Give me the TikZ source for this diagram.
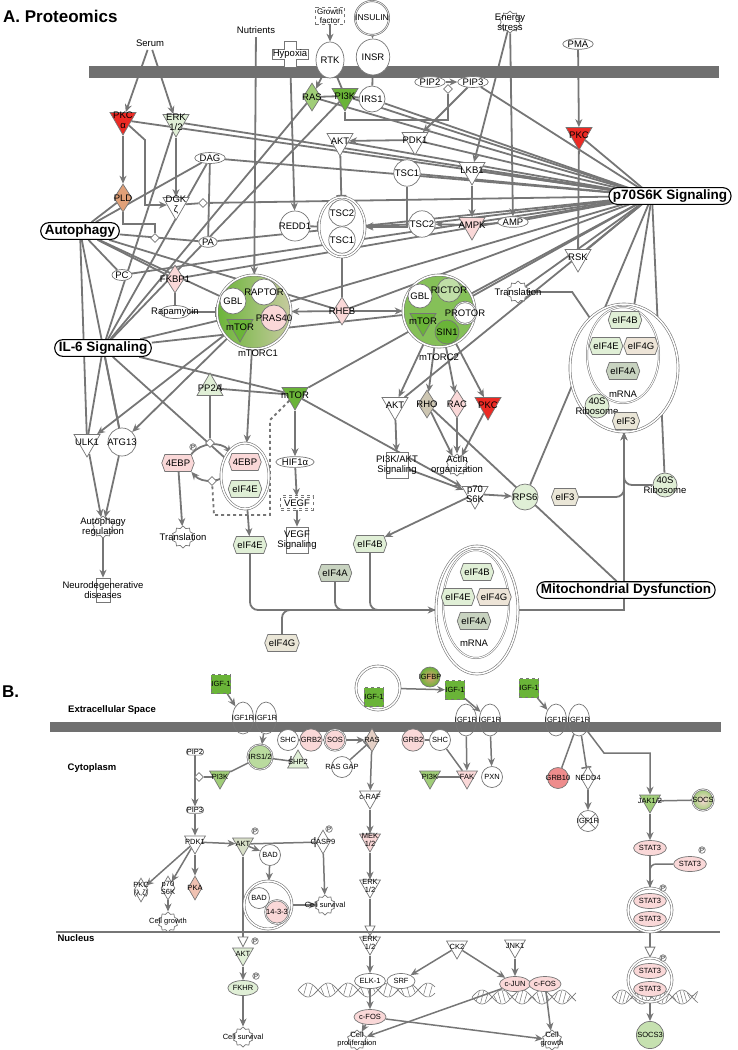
\documentclass[tikz,border=0pt]{standalone}
\usepackage{fontspec}
\setmainfont{Liberation Sans}
\usepackage{tikz}
\usetikzlibrary{arrows.meta,positioning,calc,shapes.geometric,shapes.symbols,shapes.misc}
\definecolor{lg}{RGB}{118,118,118}
\definecolor{bar}{RGB}{112,112,112}
\definecolor{rd}{RGB}{236,42,36}
\definecolor{gr}{RGB}{106,180,56}
\definecolor{gr2}{RGB}{160,205,120}
\definecolor{pg}{RGB}{224,239,214}
\definecolor{pk}{RGB}{250,216,216}
\definecolor{pk2}{RGB}{238,140,140}
\definecolor{org}{RGB}{224,160,120}
\definecolor{tan}{RGB}{205,198,178}
\pgfdeclarelayer{bg}
\pgfsetlayers{bg,main}
\begin{document}
\begin{tikzpicture}[x=1pt,y=-1pt,
  font=\fontsize{9.5}{10}\selectfont,
  e/.style={draw=lg, line width=1.8pt},
  a/.style={e, -{Stealth[length=8pt,width=7pt]}},
  ib/.style={e, -{Bar[width=10pt]}},
  ha/.style={e, -{Triangle[open,length=11pt,width=11pt,line width=0.8pt]}},
  fn/.style={draw=lg, line width=0.7pt, fill=white, inner sep=0.5pt},
  circ/.style={fn, circle, minimum size=26pt},
  lc/.style={fn, circle, minimum size=26pt, inner sep=0pt, label={[align=center]center:#1}},
  ell/.style={fn, ellipse},
  vell/.style={fn, ellipse, minimum width=26pt, minimum height=36pt},
  rec/.style={draw=lg, line width=0.7pt, ellipse, minimum width=21pt, minimum height=32pt, inner sep=0pt, label={center:IGF1R}},
  tri/.style={fn, regular polygon, regular polygon sides=3, shape border rotate=180, minimum size=30pt, inner sep=0pt, label={[align=center]center:#1}},
  utri/.style={fn, regular polygon, regular polygon sides=3, minimum size=30pt, inner sep=0pt, label={[align=center]center:#1}},
  dia/.style={fn, diamond, minimum width=18pt, minimum height=28pt, inner sep=0pt, label={[align=center]center:#1}},
  sdia/.style={fn, diamond, minimum size=9pt, inner sep=0pt},
  hex/.style={fn, signal, signal to=east and west, signal pointer angle=140, minimum height=17pt, inner xsep=1pt},
  gear/.style={fn, star, star points=10, star point ratio=1.25, minimum size=22pt, inner sep=0pt, label={[align=center]center:#1}},
  pbox/.style={fn, rectangle, minimum width=22pt, minimum height=26pt, inner sep=0pt, label={[align=center]center:#1}},
  sq/.style={fn, fill=gr, dashed, minimum size=19pt, inner sep=0pt},
  cx/.style={draw=lg, double=white, double distance=1.5pt, line width=0.6pt, fill=white},
  lab/.style={draw, rounded corners=8pt, line width=1.1pt, fill=white, inner ysep=2pt, inner xsep=4pt, font=\bfseries\fontsize{13.5}{14}\selectfont},
  pcir/.style={fn, circle, inner sep=0.3pt, font=\fontsize{6}{6}\selectfont},
  hd/.style={font=\bfseries\fontsize{17}{18}\selectfont, anchor=west, inner sep=0pt}
]
\useasboundingbox (0,0) rectangle (738,1050);

% ---------------- A. Proteomics ----------------
\fill[bar] (89,66) rectangle (719,78);
\node[hd] (ta) at (3,16) {A. Proteomics};
\node (serum) at (150,43) {Serum};
\node (nutr) at (256,30) {Nutrients};
\node[fn, dashed, align=center, font=\fontsize{8}{8.5}\selectfont, inner sep=1.5pt] (gf) at (330,16) {Growth\\factor};
\node[fn, circle, double, minimum size=34pt, inner sep=0pt, label={[font=\fontsize{8.5}{9}\selectfont]center:INSULIN}] (ins) at (372,18) {};
\draw[fn, shift={(290,54)}] (-6,-13) -- (6,-13) -- (6,-5) -- (18,-5) -- (18,5) -- (6,5) -- (6,13) -- (-6,13) -- (-6,5) -- (-18,5) -- (-18,-5) -- (-6,-5) -- cycle;
\node (hyp) at (290,54) {Hypoxia};
\node[vell] (rtk) at (330,60) {RTK};
\node[vell] (insr) at (373,57) {INSR};
\node[gear={Energy\\stress}] (enst) at (510,22) {};
\node[ell] (pma) at (578,44) {PMA};

\node[tri={PKC\\α}, fill=rd] (pkca) at (123,120) {};
\node[tri={ERK\\1/2}, fill=pg] (erk) at (176,122) {};
\node[ell] (dag) at (210,158) {DAG};
\node[dia=PLD, fill=org] (pld) at (123,198) {};
\node[tri={DGK\\ζ}] (dgk) at (176,205) {};
\node[sdia] (d1) at (203,203) {};
\node[sdia] (d2) at (155,238) {};
\node[ell] (pa) at (208,242) {PA};
\node[dia=RAS, fill=gr2] (ras) at (312,97) {};
\node[tri=PI3K, fill=gr] (pi3k) at (345,96) {};
\node[circ] (irs1) at (372,99) {IRS1};
\node[ell] (pip2) at (430,82) {PIP2};
\node[ell] (pip3) at (473,82) {PIP3};
\node[sdia] (d3) at (448,89) {};
\node[tri=AKT] (akt) at (340,141) {};
\node[tri=PDK1] (pdk1) at (415,140) {};
\node[circ] (tsc1) at (407,173) {TSC1};
\node[tri=LKB1] (lkb1) at (472,170) {};
\node[lc=REDD1, minimum size=30pt] (redd1) at (295,226) {};
\node[cx, ellipse, minimum width=46pt, minimum height=60pt] (tscc) at (342,227) {};
\node[circ] (tsc2c) at (342,213) {TSC2};
\node[circ] (tsc1c) at (342,240) {TSC1};
\node[circ] (tsc2) at (422,224) {TSC2};
\node[tri=AMPK, fill=pk] (ampk) at (472,225) {};
\node[ell] (amp) at (513,222) {AMP};
\node[tri=PKC, fill=rd] (pkcr) at (579,135) {};
\node[tri=RSK] (rsk) at (578,257) {};

\node[ell] (pc) at (122,275) {PC};
\node[dia=FKBP1, fill=pk] (fkbp) at (175,279) {};
\node[fn, ellipse, minimum width=30pt, minimum height=13pt, inner sep=0pt, label=center:Rapamycin] (rapa) at (175,312) {};
\node[cx, circle, minimum size=74pt, left color=gr, right color=gr!35!pk] (mtorc1) at (254,312) {};
\node[circ] (gbl1) at (233,301) {GBL};
\node[lc=RAPTOR] (raptor) at (264,292) {};
\node[lc=PRAS40, fill=pk] (pras) at (274,318) {};
\node[tri=mTOR, fill=gr] (mtor1) at (240,327) {};
\node (mtorc1l) at (258,353) {mTORC1};
\node[dia=RHEB, fill=pk] (rheb) at (342,311) {};
\node[cx, circle, minimum size=72pt, fill=gr2!50!gr] (mtorc2) at (439,311) {};
\node[circ, minimum size=24pt] (gbl2) at (420,296) {GBL};
\node[lc=RICTOR, fill=pg!50!gr2, minimum size=24pt] (rictor) at (449,290) {};
\node[lc=PROTOR, double, minimum size=22pt] (protor) at (465,313) {};
\node[tri=mTOR, fill=gr] (mtor2) at (423,321) {};
\node[lc=SIN1, fill=gr, minimum size=24pt] (sin1) at (447,332) {};
\node (mtorc2l) at (439,357) {mTORC2};
\node[gear=Translation] (transl) at (518,292) {};

\node[cx, ellipse, minimum width=108pt, minimum height=128pt] (bigc) at (624,368) {};
\node[draw=lg, double=white, double distance=1pt, line width=0.5pt, ellipse, minimum width=72pt, minimum height=96pt] (mr1) at (623,355) {};
\node[hex, fill=pg] (b4b) at (625,320) {eIF4B};
\node[hex, fill=pg] (b4e) at (606,346) {eIF4E};
\node[hex, fill=pk!50!pg] (b4g) at (641,346) {eIF4G};
\node[hex, fill=pg!75!gray] (b4a) at (623,371) {eIF4A};
\node (bm) at (623,394) {mRNA};
\node[lc={40S\\Ribosome}, fill=pg, minimum size=24pt] (b40) at (597,406) {};
\node[hex, fill=pk!40!pg] (b3) at (626,421) {eIF3};

\node[utri=PP2A, fill=pg] (pp2a) at (210,388) {};
\node[tri=mTOR, fill=gr] (mtor) at (295,395) {};
\node[tri=AKT] (akt2) at (395,405) {};
\node[dia=RHO, fill=tan] (rho) at (427,404) {};
\node[dia=RAC, fill=pk] (rac) at (457,404) {};
\node[tri=PKC, fill=rd] (pkc3) at (488,405) {};
\node[tri=ULK1] (ulk1) at (87,442) {};
\node[lc=ATG13, minimum size=28pt] (atg13) at (122,442) {};
\node[hex, fill=pk] (ebp) at (178,463) {4EBP};
\node[pcir] (p1) at (193,447) {P};
\node[cx, ellipse, minimum width=48pt, minimum height=66pt] (ebpc) at (245,476) {};
\node[hex, fill=pk] (ebp2) at (245,462) {4EBP};
\node[hex, fill=pg] (ebe) at (245,489) {eIF4E};
\node[sdia] (d4) at (210,443) {};
\node[sdia] (d5) at (212,481) {};
\node[ell] (hif) at (295,462) {HIF1α};
\node[fn, dashed, double, double distance=1pt, inner sep=3pt] (vegf) at (297,503) {VEGF};
\node[pbox={PI3K/AKT\\Signaling}] (pkas) at (397,465) {};
\node[gear={Actin\\organization}] (actin) at (457,465) {};
\node[tri={p70\\S6K}] (p70) at (475,494) {};
\node[lc=RPS6, fill=pg] (rps6) at (525,497) {};
\node[hex, fill=pk!40!pg] (eif3) at (565,497) {eIF3};
\node[lc={40S\\Ribosome}, fill=pg, minimum size=24pt] (rib40) at (665,485) {};
\node[gear={Autophagy\\regulation}] (autreg) at (103,527) {};
\node[gear=Translation] (transl2) at (183,537) {};
\node[pbox={Neurodegenerative\\diseases}, minimum width=14pt, minimum height=24pt] (neuro) at (103,590) {};
\node[hex, fill=pg] (eif4e) at (250,545) {eIF4E};
\node[pbox={VEGF\\Signaling}] (vegfs) at (297,540) {};
\node[hex, fill=pg] (eif4b) at (370,544) {eIF4B};
\node[hex, fill=pg!75!gray] (eif4a) at (335,573) {eIF4A};
\node[hex, fill=pk!40!pg] (eif4g) at (282,643) {eIF4G};
\node[cx, ellipse, minimum width=82pt, minimum height=128pt] (lowc) at (477,610) {};
\node[draw=lg, double=white, double distance=1pt, line width=0.5pt, ellipse, minimum width=66pt, minimum height=108pt] (mr2) at (476,604) {};
\node[hex, fill=pg] (l4b) at (477,572) {eIF4B};
\node[hex, fill=pg] (l4e) at (458,597) {eIF4E};
\node[hex, fill=pk!50!pg] (l4g) at (494,597) {eIF4G};
\node[hex, fill=pg!75!gray] (l4a) at (474,621) {eIF4A};
\node (lm) at (474,643) {mRNA};

\node[lab] (autlab) at (80,231) {Autophagy};
\node[lab] (il6) at (103,348) {IL-6 Signaling};
\node[lab] (p70lab) at (670,196) {p70S6K Signaling};
\node[lab] (mito) at (626,590) {Mitochondrial Dysfunction};
\coordinate (hub) at (652,196);

\begin{pgfonlayer}{bg}
\draw[a] (serum) -- (pkca);
\draw[a] (serum) -- (erk);
\draw[a] (gf) -- (rtk);
\draw[a] (ins) -- (insr);
\draw[a] (rtk) -- (ras);
\draw[e] (rtk) -- (pi3k);
\draw[e] (insr) -- (irs1);
\draw[e] (ras) -- (pi3k) -- (irs1);
\draw[a] (pip2) -- (pip3);
\draw[e] (pi3k) -- ++(0,24) -| (d3);
\draw[a] (pip3) -- (pdk1);
\draw[a] (pdk1) -- (akt);
\draw[ib] (akt) -- (tscc);
\draw[a] (tsc1) |- (tscc.east);
\draw[a] (tsc2) -- (tscc);
\draw[a] (enst) -- (lkb1);
\draw[a] (enst) -- (amp);
\draw[a] (lkb1) -- (ampk);
\draw[a] (ampk) -- (tsc2);
\draw[e] (amp) -- (ampk);
\draw[a] (hyp) -- (redd1);
\draw[ib] (redd1) -- (tscc);
\draw[e] (tscc) -- (rheb);
\draw[a] (rheb) -- (mtorc1);
\draw[a] (rheb) -- (mtorc2);
\draw[a] (nutr) -- (mtorc1);
\draw[a] (pma) -- (pkcr);
\draw[e] (pkcr) -- (rsk);
\draw[a] (pkca) -- (pld);
\draw[a] (pkca) -- ++(22,20) |- (dgk);
\draw[a] (erk) -- (dgk);
\draw[e] (dgk) -- (d1);
\draw[e] (dag) -- (pa);
\draw[e] (pld.south) -- ++(0,12) -| (d2);
\draw[e] (fkbp) -- (rapa);
\draw[ib] (rapa) -- (mtorc1);
\draw[a] (mtorc1) -- (ebpc);
\draw[a] (mtorc1) -- (ulk1);
\draw[a] (mtorc1) -- (atg13);
\draw[a] (ulk1) -- (autreg);
\draw[a] (atg13) -- (autreg);
\draw[a] (autreg) -- (neuro);
\draw[a] (ebp) -- (transl2);
\draw[a] (ebp.north east) to[bend left=50] (ebp2.north west);
\draw[a] (ebp2.south west) to[bend left=50] (ebp.south east);
\draw[e] (pp2a) -- (d4);
\draw[ib] (mtor) -- (pp2a);
\draw[e, dashed] (mtor) -- ++(-25,25) |- ++(-56,95) -- (d5);
\draw[a] (ebpc) -- (eif4e);
\draw[a] (mtor) -- (hif);
\draw[a] (hif) -- (vegf);
\draw[a] (vegf) -- (vegfs);
\draw[a] (mtor) -- (p70);
\draw[a] (mtorc2) -- (akt2);
\draw[a] (mtorc2) -- (rho);
\draw[a] (mtorc2) -- (rac);
\draw[a] (mtorc2) -- (pkc3);
\draw[a] (akt2) -- (pkas);
\draw[a] (rho) -- (actin);
\draw[a] (rac) -- (actin);
\draw[a] (pkc3) -- (actin);
\draw[a] (pkas) -- (p70);
\draw[e] (rho) -- (mito);
\draw[a] (p70) -- (eif4b);
\draw[a] (p70) -- (rps6);
\draw[a, rounded corners=8pt] (eif3) -| (bigc);
\draw[e, rounded corners=8pt] (rib40) -| (bigc);
\draw[e] (transl.east) -- ++(45,0) -- (bigc);
\draw[a, rounded corners=8pt] (eif4e) |- (lowc);
\draw[e, rounded corners=8pt] (eif4b) |- (lowc);
\draw[e, rounded corners=8pt] (eif4a) |- (lowc);
\draw[e, rounded corners=8pt] (eif4g) |- (lowc);
\draw[a] (lowc) -| (bigc);
% signaling fans
\foreach \t in {pkca,erk,dag,d1,ras,pi3k,irs1,pip3,akt,pdk1,tsc1,lkb1,tsc2,amp,pkcr,rsk,mtorc1,mtorc2,rheb,fkbp,pc,pa,transl,bigc,rib40,rps6,mtor,akt2}
  \draw[e] (hub) -- (\t);
\foreach \t in {pld,dag,pa,pc,fkbp,mtorc1,rheb,ulk1,atg13}
  \draw[e] (autlab) -- (\t);
\foreach \t in {erk,dag,ras,pi3k,mtorc1,mtorc2,ebpc,ulk1,atg13,mtor}
  \draw[e] (il6) -- (\t);
\end{pgfonlayer}

% ---------------- B ----------------
\begin{scope}[font=\fontsize{7.5}{8}\selectfont,
  tri/.append style={minimum size=24pt}, utri/.append style={minimum size=24pt},
  circ/.append style={minimum size=21pt}, lc/.append style={minimum size=21pt},
  dia/.append style={minimum width=14pt, minimum height=24pt},
  ell/.append style={minimum height=15pt, minimum width=28pt},
  gear/.append style={minimum size=20pt}, e/.append style={line width=1.5pt},
  hb/.style={font=\bfseries\fontsize{9.5}{10}\selectfont}]
\node[hd] (tb) at (2,692) {B.};
\node[hb] (exs) at (112,710) {Extracellular Space};
\fill[bar] (50,722) rectangle (721,732);
\node[hb] (cyt) at (92,768) {Cytoplasm};
\draw[draw=lg, line width=2pt] (56,932) -- (720,932);
\node[hb] (nuc) at (76,938) {Nucleus};

\begin{pgfonlayer}{bg}
\foreach \xa/\xb/\yy in {298/435/990, 472/576/997, 612/698/997} {
  \draw[draw=lg, line width=0.6pt] plot[domain=\xa:\xb, samples=70] (\x, {\yy+7*sin((\x-\xa)*9)});
  \draw[draw=lg, line width=0.6pt] plot[domain=\xa:\xb, samples=70] (\x, {\yy-7*sin((\x-\xa)*9)});
  \foreach \k [evaluate=\k as \r using {\xa+\k*(\xb-\xa)/24}] in {1,...,23}
    \draw[draw=lg, line width=0.5pt] (\r, {\yy+6*sin((\r-\xa)*9)}) -- (\r+3, {\yy-6*sin((\r+3-\xa)*9)});
}
\end{pgfonlayer}

\node[sq] (igf1a) at (221,684) {IGF-1};
\node[rec] (r1a) at (243,718) {};
\node[rec] (r1b) at (266,718) {};
\node[cx, circle, minimum size=44pt, fill=none] (igfc) at (378,688) {};
\node[sq] (igf1b) at (374,697) {IGF-1};
\node[lc=IGFBP, inner color=org, outer color=gr, minimum size=20pt] (igfbp) at (430,677) {};
\node[sq] (igf1c) at (455,690) {IGF-1};
\node[rec] (r2a) at (466,720) {};
\node[rec] (r2b) at (490,720) {};
\node[sq] (igf1d) at (529,688) {IGF-1};
\node[rec] (r3a) at (556,720) {};
\node[rec] (r3b) at (579,720) {};
\node[circ] (shc1) at (288,740) {SHC};
\node[circ, fill=pk] (grb2a) at (311,740) {GRB2};
\node[circ, fill=pk, double] (sos) at (335,740) {SOS};
\node[dia=RAS, fill=pk!50!tan] (rasb) at (372,740) {};
\node[circ, fill=pg!40!gr2, double] (irs12) at (260,757) {IRS1/2};
\node[utri=SHP2, fill=pg] (shp2) at (298,762) {};
\node[lc=RAS GAP] (rasgap) at (342,767) {};
\node[circ, fill=pk] (grb2b) at (413,740) {GRB2};
\node[circ] (shc2) at (440,740) {SHC};
\node[tri=PI3K, fill=gr2] (pi3kc) at (430,777) {};
\node[tri=FAK, fill=pk] (fak) at (467,777) {};
\node[circ] (pxn) at (492,777) {PXN};
\node[lc=GRB10, fill=pk2] (grb10) at (558,778) {};
\node[dia=NEDD4] (nedd4) at (588,778) {};
\node[tri=JAK1/2, fill=gr2] (jak) at (650,801) {};
\node[lc=SOCS, inner color=pk, outer color=gr2, double] (socs) at (703,800) {};
\node[lc=IGF1R, path picture={\draw[draw=lg] (path picture bounding box.north west) -- (path picture bounding box.south east) (path picture bounding box.north east) -- (path picture bounding box.south west);}] (igfx) at (588,821) {};
\node[ell, fill=pk] (stat3a) at (650,848) {STAT3};
\node[ell, fill=pk] (stat3p) at (690,864) {STAT3};
\node[pcir] (pp1) at (702,850) {P};
\node[cx, circle, minimum size=44pt, fill=none] (stc) at (650,910) {};
\node[ell, fill=pk] (st1) at (650,901) {STAT3};
\node[ell, fill=pk] (st2) at (650,919) {STAT3};
\node[pcir] (pp2) at (663,888) {P};
\node[fn, rounded corners=3pt] (pip2b) at (195,752) {PIP2};
\node[tri=PI3K, fill=gr2] (pi3kb) at (220,777) {};
\node[sdia] (d6) at (199,777) {};
\node[fn, rounded corners=3pt] (pip3b) at (195,810) {PIP3};
\node[tri=PDK1] (pdk1b) at (195,842) {};
\node[tri=AKT, fill=pg!60!tan] (aktb) at (243,844) {};
\node[pcir] (pb1) at (255,831) {P};
\node[dia={PKC\\(λ,ζ)}] (pkcl) at (141,890) {};
\node[dia={p70\\S6K}] (p70b) at (168,888) {};
\node[dia=PKA, fill=pk!60!org] (pka) at (195,888) {};
\node[gear={Cell growth}] (cg1) at (168,922) {};
\node[circ] (bad) at (270,855) {BAD};
\node[dia=CASP9] (casp9) at (323,842) {};
\node[pcir] (pb2) at (329,829) {P};
\node[cx, circle, minimum size=48pt, fill=none] (badc) at (268,905) {};
\node[circ] (bad2) at (259,898) {BAD};
\node[circ, fill=pk, double] (c1433) at (277,912) {14-3-3};
\node[gear={Cell survival}] (cs1) at (325,905) {};
\node[tri=c-RAF] (craf) at (370,797) {};
\node[tri={MEK\\1/2}, fill=pk] (mek) at (370,840) {};
\node[tri={ERK\\1/2}] (erkb) at (370,886) {};
\node[tri={ERK\\1/2}] (erkn) at (370,943) {};
\node[ell] (elk) at (370,981) {ELK-1};
\node[ell] (srf) at (401,981) {SRF};
\node[ell, fill=pk] (cfos1) at (370,1017) {c-FOS};
\node[gear={Cell\\proliferation}] (cpro) at (357,1040) {};
\node[tri=CK2] (ck2) at (457,947) {};
\node[tri=JNK1] (jnk) at (515,946) {};
\node[ell, fill=pk] (cjun) at (515,984) {c-JUN};
\node[ell, fill=pk] (cfos2) at (545,984) {c-FOS};
\node[gear={Cell\\growth}] (cg2) at (552,1040) {};
\node[tri=AKT, fill=pg] (aktn) at (243,954) {};
\node[pcir] (pb3) at (255,941) {P};
\node[ell, fill=pg] (fkhr) at (243,988) {FKHR};
\node[pcir] (pb4) at (256,976) {P};
\node[gear={Cell survival}] (cs2) at (243,1037) {};
\node[cx, circle, minimum size=44pt, fill=none] (stn) at (650,980) {};
\node[ell, fill=pk] (st3) at (650,971) {STAT3};
\node[ell, fill=pk] (st4) at (650,989) {STAT3};
\node[pcir] (pp3) at (663,958) {P};
\node[circ, fill=pg!60!gr2] (socs3) at (650,1035) {SOCS3};

\begin{pgfonlayer}{bg}
\draw[a] (igf1a) -- (r1a);
\draw[a] (r1b) -- (irs12);
\draw[ib] (irs12) -- (shp2);
\draw[e] (irs12) -- (pi3kb);
\draw[a] (pip2b) -- (pip3b);
\draw[e] (pi3kb) -- (d6);
\draw[a] (pip3b) -- (pdk1b);
\draw[a] (pdk1b) -- (aktb);
\draw[a] (pdk1b) -- (pkcl);
\draw[a] (pdk1b) -- (p70b);
\draw[a] (pdk1b) -- (pka);
\draw[a] (p70b) -- (cg1);
\draw[a] (aktb) -- (bad);
\draw[ib] (aktb) -- (casp9);
\draw[a] (bad) -- (badc);
\draw[a] (badc) -- (cs1);
\draw[a] (casp9) -- (cs1);
\draw[ha] (aktb) -- (aktn);
\draw[a] (aktn) -- (fkhr);
\draw[a] (fkhr) -- (cs2);
\draw[e] (shc1) -- (grb2a) -- (sos);
\draw[a] (sos) -- (rasb);
\draw[ib] (rasgap) -- (rasb);
\draw[a] (rasb) -- (craf);
\draw[a] (craf) -- (mek);
\draw[a] (mek) -- (erkb);
\draw[ha] (erkb) -- (erkn);
\draw[a] (erkn) -- (elk);
\draw[a] (elk) -- (cfos1);
\draw[a] (cfos1) -- (cpro);
\draw[a] (igfc) -- (igf1c);
\draw[a] (igf1c) -- (r2b);
\draw[e] (grb2b) -- (shc2);
\draw[a] (r2a) -- (fak);
\draw[a] (r2b) -- (pxn);
\draw[e] (shc2) -- (fak);
\draw[e] (pi3kc) -- (fak);
\draw[a] (igf1d) -- (r3a);
\draw[e] (r3b) -- (grb10);
\draw[ib] (r3b) -- (nedd4);
\draw[a] (r3b) -- ++(25,33) -| (jak);
\draw[a] (nedd4) -- (igfx);
\draw[e] (jak) -- (socs);
\draw[a] (jak) -- (stat3a);
\draw[a] (stat3a) -- (stc);
\draw[e, rounded corners=6pt] (stat3p) -| (stc);
\draw[ha] (stc) -- (stn);
\draw[a] (stn) -- (socs3);
\draw[a] (ck2) -- (srf);
\draw[a] (ck2) -- (cjun);
\draw[a] (jnk) -- (cjun);
\draw[a] (cfos2) -- (cg2);
\draw[a] (cfos1) -- (cg2);
\draw[a] (cjun) -- (cpro);
\end{pgfonlayer}
\end{scope}
\end{tikzpicture}
\end{document}
